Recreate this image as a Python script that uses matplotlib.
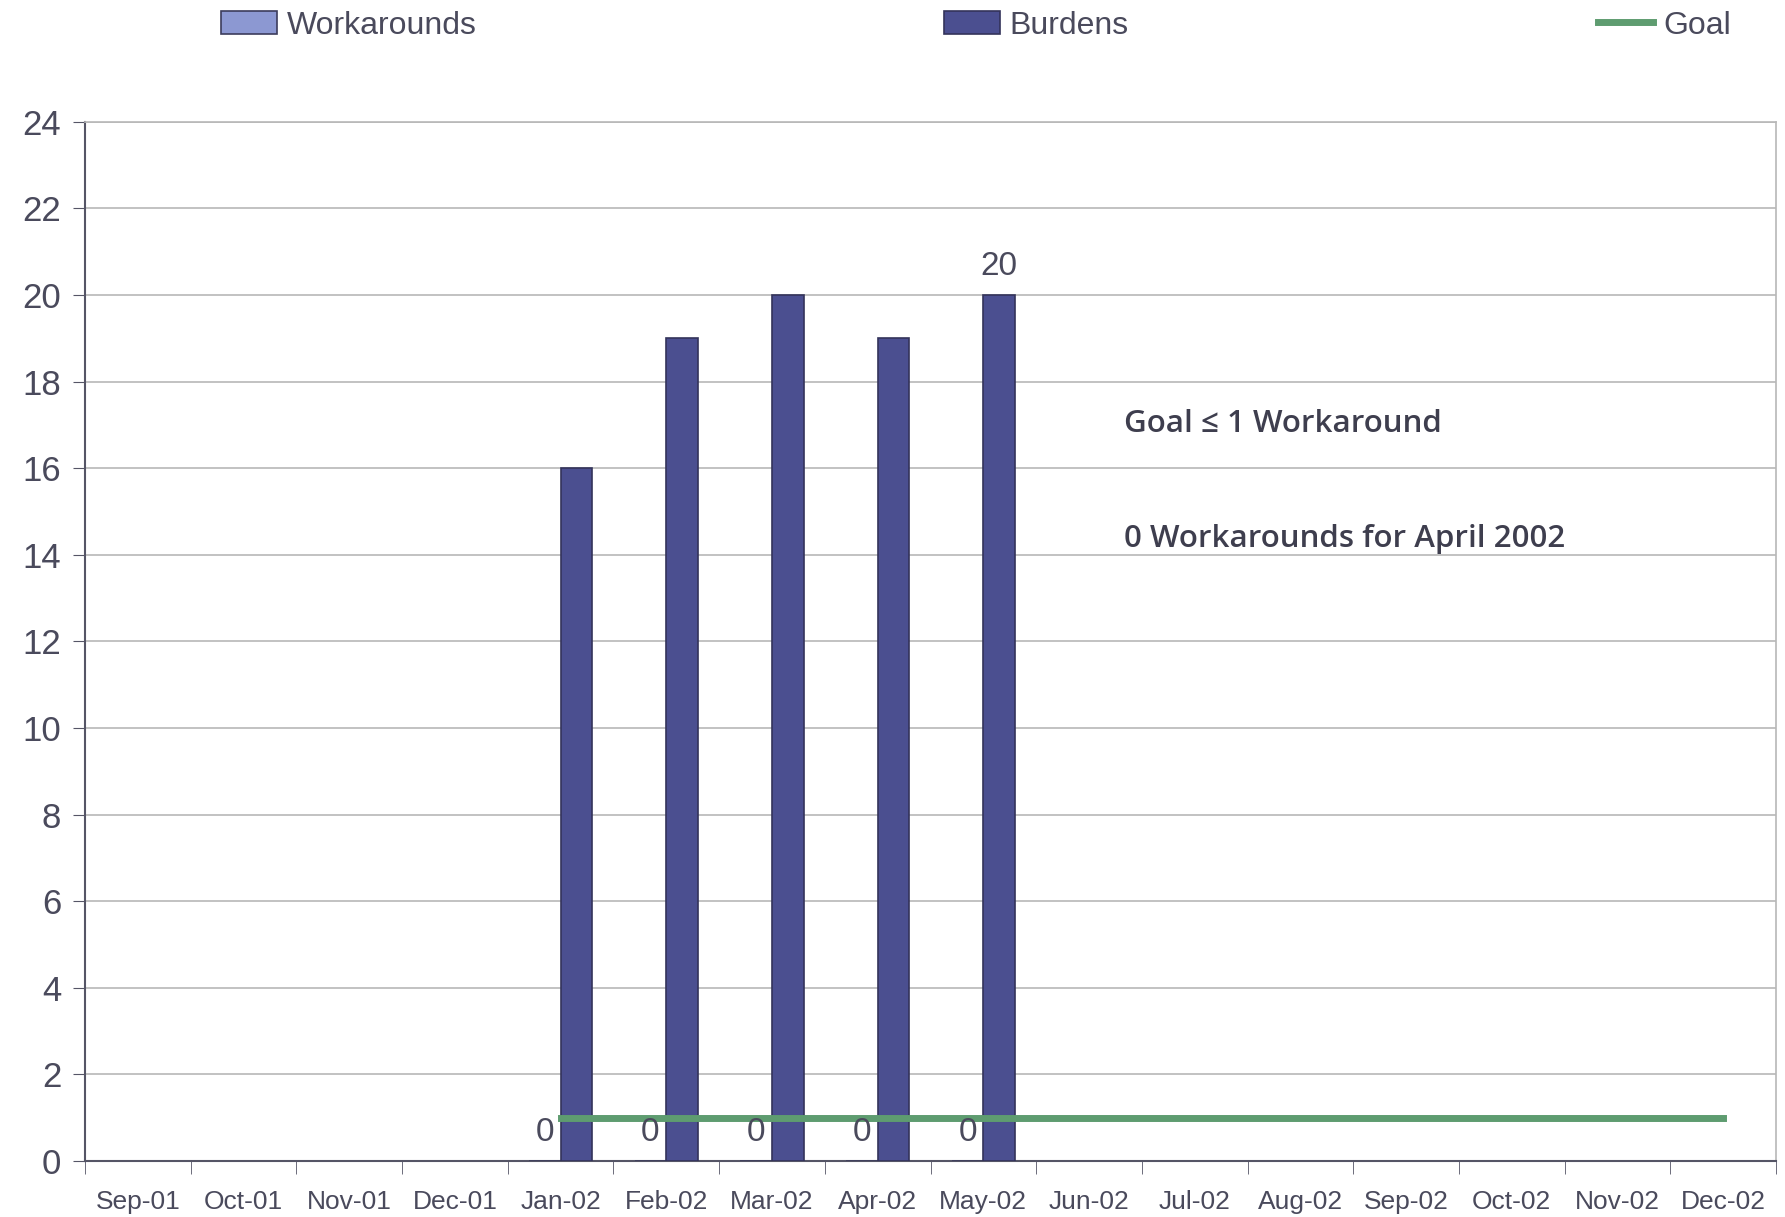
import numpy as np
from matplotlib import pyplot as plt

months = ["Sep-01", "Oct-01", "Nov-01", "Dec-01", "Jan-02", "Feb-02", "Mar-02", "Apr-02",
          "May-02", "Jun-02", "Jul-02", "Aug-02", "Sep-02", "Oct-02", "Nov-02", "Dec-02"]
workarounds = [np.nan, np.nan, np.nan, np.nan, 0, 0, 0, 0, 0,
               np.nan, np.nan, np.nan, np.nan, np.nan, np.nan, np.nan]
burdens = [np.nan, np.nan, np.nan, np.nan, 16, 19, 20, 19, 20,
           np.nan, np.nan, np.nan, np.nan, np.nan, np.nan, np.nan]
goal = [np.nan, np.nan, np.nan, np.nan, 1, 1, 1, 1, 1, 1, 1, 1, 1, 1, 1, 1]

text_color = "#4a4a5c"
plt.rcParams['font.family'] = ['Liberation Sans', 'DejaVu Sans']

fig = plt.figure(figsize=(17.85, 12.17), dpi=100)
ax = fig.add_axes([0.0476, 0.046, 0.9474, 0.854])

x = np.arange(len(months))
bw = 0.3
h_w = ax.bar(x - bw, workarounds, width=bw, align='edge', color="#8c98d2",
             edgecolor="#3c3c5c", linewidth=1.2, label="Workarounds", zorder=3)
h_b = ax.bar(x, burdens, width=bw, align='edge', color="#4b4f90",
             edgecolor="#33335a", linewidth=1.2, label="Burdens", zorder=3)
h_g, = ax.plot(x, goal, color="#5e9c70", linewidth=5, label="Goal", zorder=4)

# data labels
for i, v in enumerate(workarounds):
    if not np.isnan(v):
        ax.text(i - bw / 2, 0.3, "%d" % v, ha='center', va='bottom',
                fontsize=24, color=text_color, zorder=5)
ax.text(8 + bw / 2, 20.3, "20", ha='center', va='bottom', fontsize=24, color=text_color)

note_font = ['Open Sans', 'DejaVu Sans']
ax.text(9.33, 17.02, "Goal \u2264 1 Workaround", fontsize=22.5, family=note_font,
        weight='semibold', color="#3e3e4e", va='center')
ax.text(9.33, 14.37, "0 Workarounds for April 2002", fontsize=22.5, family=note_font,
        weight='semibold', color="#3e3e4e", va='center')

ax.set_xlim(-0.5, len(months) - 0.5)
ax.set_ylim(0, 24)
ax.set_yticks(range(0, 25, 2))
ax.set_xticks(x)
ax.set_xticklabels(months)
ax.set_xticks(np.arange(-0.5, len(months), 1), minor=True)
ax.tick_params(axis='x', which='major', length=0, labelsize=19, labelcolor=text_color, pad=21)
ax.tick_params(axis='x', which='minor', length=9, color="#555566", direction='out')
ax.tick_params(axis='y', length=9, color="#555566", labelsize=25, labelcolor=text_color, pad=8)

ax.grid(axis='y', color="#b8b8b8", linewidth=1.2, zorder=0)
for side in ['left', 'bottom']:
    ax.spines[side].set_color("#555566")
    ax.spines[side].set_linewidth(1.5)
for side in ['top', 'right']:
    ax.spines[side].set_color("#b8b8b8")
    ax.spines[side].set_linewidth(1.2)

# three legend entries spread across the top
for handle, name, xpos in [(h_w, "Workarounds", 0.124), (h_b, "Burdens", 0.529),
                           (h_g, "Goal", 0.895)]:
    fig.legend([handle], [name], loc='center left', bbox_to_anchor=(xpos, 0.979),
               frameon=False, fontsize=23, labelcolor=text_color, borderpad=0,
               borderaxespad=0, handlelength=1.75, handletextpad=0.3)

fig.savefig("out.png", dpi=100, facecolor="white")
